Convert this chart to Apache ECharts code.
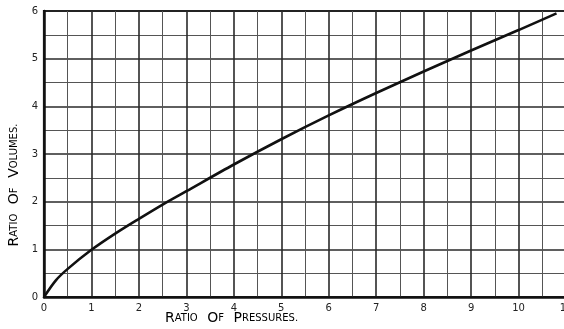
<!DOCTYPE html>
<html>
<head>
<meta charset="utf-8">
<script src="https://cdn.jsdelivr.net/npm/echarts@6/dist/echarts.min.js"></script>
<style>html,body{margin:0;padding:0;background:#fff}#c{width:564px;height:329px}</style>
</head>
<body>
<div id="c"></div>
<script>
var pressureRatio = [0, 0.25, 0.5, 1, 1.5, 2, 2.5, 3, 4, 5, 6, 7, 8, 9, 10, 10.8];
var volumeRatio   = [0, 0.35, 0.59, 0.99, 1.33, 1.64, 1.94, 2.22, 2.78, 3.31, 3.81, 4.28, 4.73, 5.17, 5.60, 5.95];
var xTicks = [0, 11, 1];
var yTicks = [0, 6, 1];
var xTitle = 'RATIO OF PRESSURES.';
var yTitle = 'RATIO OF VOLUMES.';

function smallCaps(s) {
  return s.split(' ').map(function (w) {
    return '{b|' + w.charAt(0) + '}{s|' + w.slice(1) + '}';
  }).join('{s|   }');
}
var rich = {
  b: {fontFamily: 'DejaVu Sans', fontSize: 14, color: '#222'},
  s: {fontFamily: 'DejaVu Sans', fontSize: 10, color: '#222'}
};

var chart = echarts.init(document.getElementById('c'), null, {renderer: 'canvas'});
var lineC = '#2a2a2a';
chart.setOption({
  backgroundColor: '#fff',
  animation: false,
  grid: {left: 44, top: 11, width: 522, height: 286, containLabel: false, outerBoundsMode: 'none',
         show: true, borderColor: '#111', borderWidth: 2.2, backgroundColor: 'transparent'},
  xAxis: {
    type: 'value', min: xTicks[0], max: xTicks[1], interval: xTicks[2],
    axisLine: {show: true, onZero: false, lineStyle: {color: '#111', width: 2.5}},
    axisTick: {show: false},
    axisLabel: {color: '#222', fontFamily: 'DejaVu Sans', fontSize: 10, margin: 6},
    splitLine: {show: true, lineStyle: {color: lineC, width: 1.6}},
    minorTick: {show: false, splitNumber: 2},
    minorSplitLine: {show: true, lineStyle: {color: '#555', width: 1}}
  },
  yAxis: {
    type: 'value', min: yTicks[0], max: yTicks[1], interval: yTicks[2],
    axisLine: {show: true, onZero: false, lineStyle: {color: '#111', width: 2.5}},
    axisTick: {show: false},
    axisLabel: {color: '#222', fontFamily: 'DejaVu Sans', fontSize: 10, margin: 6},
    splitLine: {show: true, lineStyle: {color: lineC, width: 1.6}},
    minorTick: {show: false, splitNumber: 2},
    minorSplitLine: {show: true, lineStyle: {color: '#555', width: 1}}
  },
  graphic: [
    {type: 'text', left: 165, top: 311, style: {text: smallCaps(xTitle), rich: rich}},
    {type: 'text', x: 14, y: 185, rotation: Math.PI / 2, originX: 0, originY: 0,
     style: {text: smallCaps(yTitle), rich: rich, align: 'center', verticalAlign: 'middle'}}
  ],
  series: [{
    type: 'line',
    data: pressureRatio.map(function (x, i) { return [x, volumeRatio[i]]; }),
    smooth: 0.3,
    showSymbol: false,
    lineStyle: {color: '#111', width: 2.6},
    z: 5
  }]
});
</script>
</body>
</html>
